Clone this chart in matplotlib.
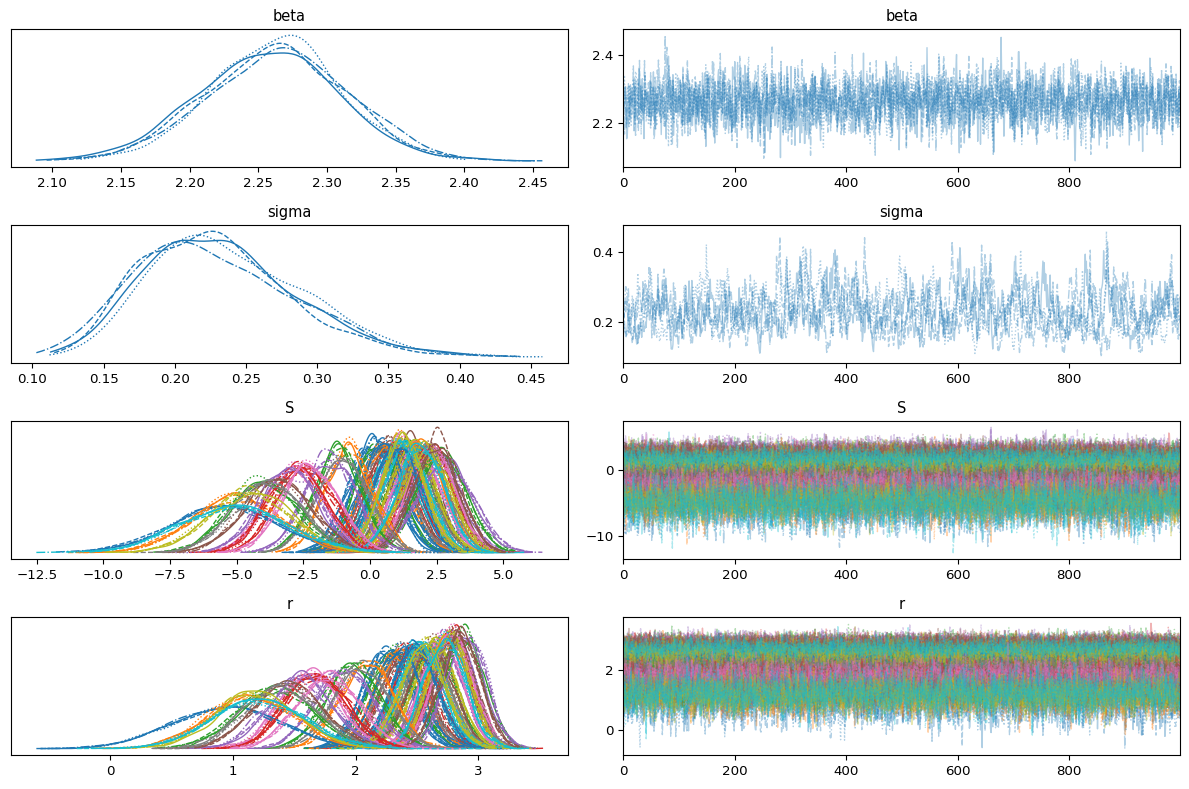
import numpy as np
import matplotlib.pyplot as plt
from matplotlib.ticker import MaxNLocator

n_draws = 1000
chain_styles = ["-", "--", ":", "-."]

# beta: per-chain centre / spread
beta_means = [2.256, 2.260, 2.262, 2.266]
beta_sds = [0.051, 0.050, 0.046, 0.054]

# sigma: right skewed, per-chain median and log spread
sigma_medians = [0.221, 0.224, 0.222, 0.226]
sigma_log_sds = [0.22, 0.23, 0.22, 0.25]

# S components (colour = index % 10), centre and spread of each kde bump
S_means = [0.0, 1.2, 0.3, 0.7, 1.8, 0.8, 1.2, 0.6, 1.3, 0.9,
           0.2, 0.5, 1.5, 1.0, 2.5, 1.6, 1.8, 1.4, 1.6, 1.1,
           0.5, 2.0, 2.7, 2.2, 2.8, 2.3, 2.3, 2.0, 2.1, 1.3,
           1.0, -0.8, -1.2, -2.4, -1.5, 2.5, -2.8, -1.0, 1.2, 1.9,
           -5.5, -5.0, -4.0, -2.7, -3.0, -3.5, -2.2, -3.8, -4.5, -5.0]
S_sds = [0.85, 0.80, 0.85, 0.85, 0.85, 0.85, 0.80, 0.85, 0.80, 0.85,
         0.85, 0.85, 0.85, 0.85, 0.90, 0.85, 0.85, 0.85, 0.85, 0.85,
         0.85, 0.85, 0.90, 0.85, 1.00, 0.85, 0.85, 0.85, 0.85, 0.85,
         0.85, 0.85, 0.90, 1.05, 0.95, 0.85, 1.05, 0.95, 0.80, 0.85,
         1.95, 1.65, 1.30, 1.05, 1.10, 1.25, 1.05, 1.30, 1.50, 2.00]

# r components, same order as S
r_means = [2.25, 2.55, 2.30, 2.40, 2.70, 2.42, 2.55, 2.38, 2.58, 2.48,
           2.28, 2.35, 2.62, 2.50, 2.80, 2.62, 2.70, 2.58, 2.65, 2.52,
           2.35, 2.75, 2.88, 2.78, 2.90, 2.80, 2.80, 2.75, 2.76, 2.56,
           2.48, 2.10, 1.98, 1.65, 1.90, 2.85, 1.62, 2.05, 2.55, 2.72,
           0.95, 1.15, 1.35, 1.70, 1.55, 1.45, 1.78, 1.40, 1.18, 1.22]
r_sds = [0.19, 0.18, 0.19, 0.19, 0.17, 0.19, 0.18, 0.19, 0.18, 0.18,
         0.19, 0.19, 0.18, 0.18, 0.16, 0.18, 0.17, 0.18, 0.17, 0.18,
         0.19, 0.17, 0.16, 0.16, 0.16, 0.16, 0.16, 0.17, 0.16, 0.18,
         0.18, 0.21, 0.22, 0.24, 0.23, 0.16, 0.24, 0.22, 0.18, 0.17,
         0.43, 0.35, 0.30, 0.25, 0.26, 0.28, 0.25, 0.29, 0.33, 0.38]

# draw-to-draw stickiness of each sampler
phi_beta, phi_sigma, phi_S, phi_r = 0.2, 0.85, 0.3, 0.3

rng = np.random.default_rng(11)


def ar_noise(shape, phi):
    e = rng.standard_normal((n_draws,) + shape)
    x = np.empty_like(e)
    x[0] = e[0]
    k = np.sqrt(1 - phi ** 2)
    for t in range(1, n_draws):
        x[t] = phi * x[t - 1] + k * e[t]
    return x


def kde(vals):
    grid = np.linspace(vals.min(), vals.max(), 256)
    bw = 1.0 * vals.std() * len(vals) ** (-0.2)
    z = (grid[:, None] - vals[None, :]) / bw
    dens = np.exp(-0.5 * z ** 2).sum(axis=1) / (len(vals) * bw * np.sqrt(2 * np.pi))
    return grid, dens


# samples, shape (draw, component, chain)
beta = np.array(beta_means) + np.array(beta_sds) * ar_noise((1, 4), phi_beta)
sigma = np.array(sigma_medians) * np.exp(np.array(sigma_log_sds) * ar_noise((1, 4), phi_sigma))
S = np.array(S_means)[:, None] + np.array(S_sds)[:, None] * ar_noise((len(S_means), 4), phi_S)
r = np.array(r_means)[:, None] + np.array(r_sds)[:, None] * ar_noise((len(r_means), 4), phi_r)

plt.rcParams["font.size"] = 9.6

fig, axes = plt.subplots(4, 2, figsize=(11.89, 7.89), dpi=100)
draws = np.arange(n_draws)

for row, (name, samples) in enumerate([("beta", beta), ("sigma", sigma), ("S", S), ("r", r)]):
    ax_kde, ax_tr = axes[row]
    ncomp = samples.shape[1]
    for i in range(ncomp):
        col = "C0" if ncomp == 1 else "C%d" % (i % 10)
        for c in range(4):
            x, y = kde(samples[:, i, c])
            ax_kde.plot(x, y, color=col, ls=chain_styles[c], lw=1)
            ax_tr.plot(draws, samples[:, i, c], color=col, ls=chain_styles[c], lw=1, alpha=0.35)
    ax_kde.set_yticks([])
    ax_kde.set_title(name, fontsize=10.5)
    ax_tr.set_title(name, fontsize=10.5)
    ax_tr.set_xlim(0, n_draws - 1)
    ax_tr.yaxis.set_major_locator(MaxNLocator(3, steps=[1, 2, 5, 10]))

fig.subplots_adjust(left=0.0093, right=0.9924, top=0.9632, bottom=0.0431,
                    wspace=0.10, hspace=0.42)
fig.savefig("out.png")
